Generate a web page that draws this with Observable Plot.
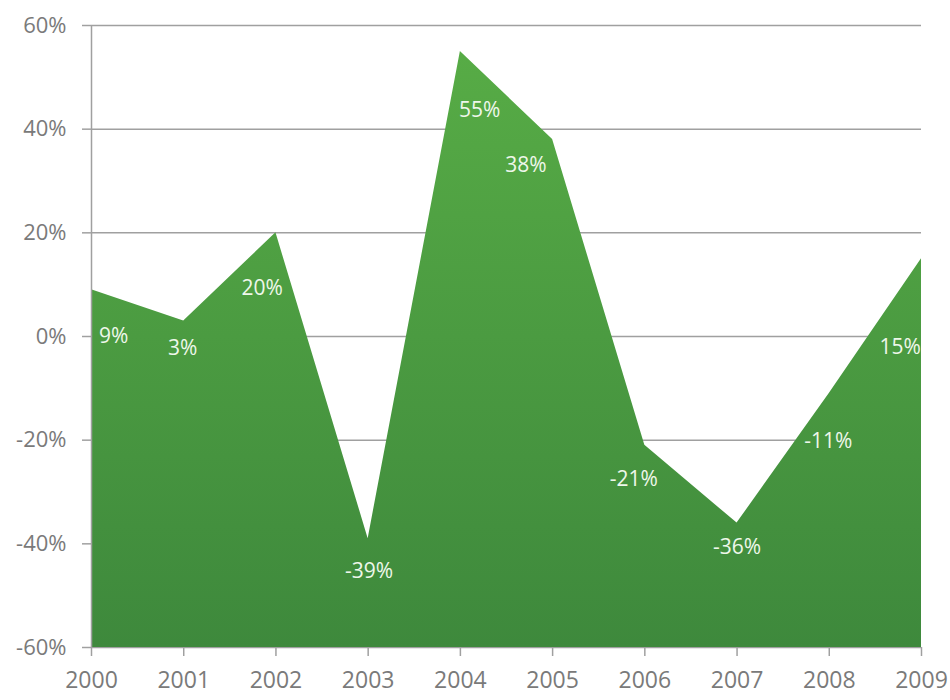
<!DOCTYPE html>
<html>
<head>
<meta charset="utf-8">
<script src="https://cdn.jsdelivr.net/npm/d3@7"></script>
<script src="https://cdn.jsdelivr.net/npm/@observablehq/plot@0.6"></script>
<style>
  html, body { margin: 0; padding: 0; background: #fff; }
  #chart { width: 950px; height: 700px; }
</style>
</head>
<body>
<div id="chart"></div>
<script>
// Data
const years = [2000, 2001, 2002, 2003, 2004, 2005, 2006, 2007, 2008, 2009];
const values = [9, 3, 20, -39, 55, 38, -21, -36, -11, 15];
const yTicks = [-60, -40, -20, 0, 20, 40, 60];
// Label anchor points (data units) as placed in the reference
const labelYear = [2000.24, 2000.99, 2001.85, 2003.01, 2004.21, 2004.71, 2005.88, 2007.0, 2007.99, 2008.77];
const labelValue = [0, -2.2, 9.4, -45.2, 43.6, 33, -27.5, -40.6, -20.3, -2];

const data = years.map((y, i) => ({year: y, value: values[i]}));
const labels = years.map((y, i) => ({x: labelYear[i], y: labelValue[i], text: values[i] + "%"}));

const axisColor = "#7a7a7a";
const gridColor = "#a0a0a0";

const plot = Plot.plot({
  width: 950,
  height: 700,
  marginLeft: 91,
  marginRight: 29,
  marginTop: 25,
  marginBottom: 53,
  style: {fontFamily: "'Open Sans', sans-serif", background: "#fff", overflow: "visible"},
  x: {domain: [2000, 2009], ticks: years, tickFormat: d => String(d)},
  y: {domain: [-60, 60], ticks: yTicks, tickFormat: d => d + "%"},
  marks: [
    Plot.ruleY(yTicks, {stroke: gridColor, strokeWidth: 1.5}),
    Plot.areaY(data, {x: "year", y1: -60, y2: "value", fill: "url(#greenGrad)"}),
    Plot.ruleX([2000], {stroke: gridColor, strokeWidth: 1.5}),
    Plot.axisY({ticks: yTicks, tickFormat: d => d + "%", tickSize: 9, tickPadding: 16, fontSize: 22, color: axisColor, stroke: gridColor, strokeWidth: 1.5, label: null}),
    Plot.axisX({ticks: years, tickFormat: d => String(d), tickSize: 9, tickPadding: 15, fontSize: 23, color: axisColor, stroke: gridColor, strokeWidth: 1.5, label: null}),
    Plot.text(labels, {x: "x", y: "y", text: "text", fill: "#eef7ea", fontSize: 21})
  ]
});

const svg = d3.select(plot);
const defs = svg.insert("defs", ":first-child");
const grad = defs.append("linearGradient")
  .attr("id", "greenGrad")
  .attr("gradientUnits", "userSpaceOnUse")
  .attr("x1", 0).attr("y1", 25).attr("x2", 0).attr("y2", 647);
grad.append("stop").attr("offset", "0%").attr("stop-color", "#58ad46");
grad.append("stop").attr("offset", "100%").attr("stop-color", "#3e893c");

document.getElementById("chart").appendChild(plot);
</script>
</body>
</html>
